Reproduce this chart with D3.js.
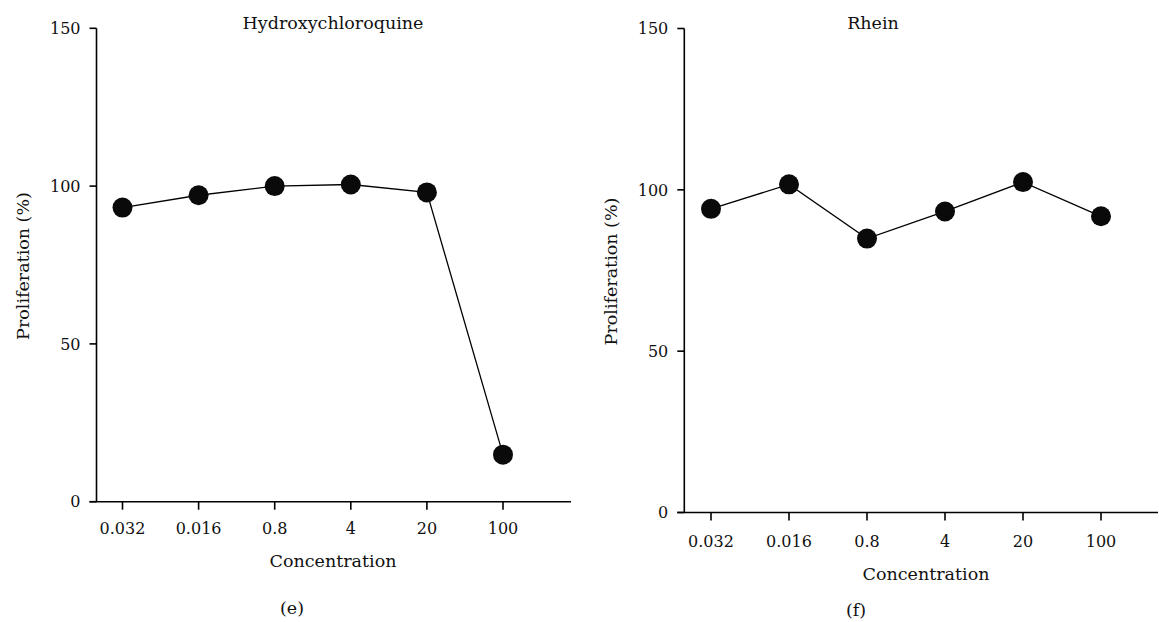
<html>
<head>
  <style>
    body{margin:0;background:#fff}
    .panel .axis line{stroke:#000;stroke-width:1.6px}
    .panel .series{stroke:#000;stroke-width:1.3px;fill:none}
    .panel .dot{fill:#0a0a0a}
    .panel .lab{font-size:17.5px}
  </style>
</head>
<body>
<div id="chart"></div>
<script src="https://cdn.jsdelivr.net/npm/d3@7"></script>
<script>
// data
var concentrations = ['0.032', '0.016', '0.8', '4', '20', '100'];
var hcqValues   = [93.2, 97.1, 100.0, 100.5, 98.0, 14.9];
var rheinValues = [94.1, 101.7, 84.9, 93.3, 102.4, 91.8];
var yTicks = [0, 50, 100, 150];

(function () {
  var width = 1159, height = 622;
  var FONT = "'DejaVu Serif', serif";

  var svg = d3.select('#chart').append('svg')
    .attr('width', width)
    .attr('height', height)
    .style('font-family', FONT)
    .style('font-size', '16px')
    .style('fill', '#111');

  function panel(cfg) {
    var g = svg.append('g').attr('class', 'panel');

    var x = d3.scaleLinear()
      .domain([0, concentrations.length - 1])
      .range([cfg.xFirst, cfg.xLast]);
    var y = d3.scaleLinear()
      .domain([0, 150])
      .range([cfg.yZero, cfg.yTop]);

    var ax = g.append('g').attr('class', 'axis');

    // y axis
    ax.append('line')
      .attr('x1', cfg.yAxisX).attr('y1', y(150))
      .attr('x2', cfg.yAxisX).attr('y2', y(0));
    ax.selectAll('.ytick').data(yTicks).enter().append('line')
      .attr('x1', cfg.yAxisX - 7).attr('x2', cfg.yAxisX)
      .attr('y1', function (d) { return y(d); })
      .attr('y2', function (d) { return y(d); });
    g.selectAll('.ylab').data(yTicks).enter().append('text')
      .attr('x', cfg.yAxisX - 16)
      .attr('y', function (d) { return y(d); })
      .attr('dy', '0.36em')
      .attr('text-anchor', 'end')
      .text(function (d) { return d; });

    // x axis
    ax.append('line')
      .attr('x1', cfg.yAxisX - 7).attr('y1', y(0))
      .attr('x2', cfg.xEnd).attr('y2', y(0));
    ax.selectAll('.xtick').data(concentrations).enter().append('line')
      .attr('x1', function (d, i) { return x(i); })
      .attr('x2', function (d, i) { return x(i); })
      .attr('y1', y(0)).attr('y2', y(0) + 8);
    g.selectAll('.xlab').data(concentrations).enter().append('text')
      .attr('x', function (d, i) { return x(i); })
      .attr('y', y(0) + cfg.xLabGap)
      .attr('text-anchor', 'middle')
      .text(function (d) { return d; });

    // series
    var line = d3.line()
      .x(function (d, i) { return x(i); })
      .y(function (d) { return y(d); });
    g.append('path')
      .attr('class', 'series')
      .attr('d', line(cfg.values));
    g.selectAll('.dot').data(cfg.values).enter().append('circle')
      .attr('class', 'dot')
      .attr('cx', function (d, i) { return x(i); })
      .attr('cy', function (d) { return y(d); })
      .attr('r', 10);

    // texts
    g.append('text')
      .attr('class', 'lab')
      .attr('x', cfg.titleX).attr('y', 29)
      .attr('text-anchor', 'middle')
      .text(cfg.title);
    g.append('text')
      .attr('class', 'lab')
      .attr('transform', 'translate(' + cfg.yTitleX + ',' + cfg.yTitleY + ') rotate(-90)')
      .attr('text-anchor', 'middle')
      .text('Proliferation (%)');
    g.append('text')
      .attr('class', 'lab')
      .attr('x', cfg.xTitleX).attr('y', cfg.xTitleY)
      .attr('text-anchor', 'middle')
      .text('Concentration');
    g.append('text')
      .attr('class', 'lab')
      .attr('x', cfg.tagX).attr('y', cfg.tagY)
      .attr('text-anchor', 'middle')
      .text(cfg.tag);
  }

  panel({
    title: 'Hydroxychloroquine', tag: '(e)', values: hcqValues,
    yAxisX: 96.5, xFirst: 122.5, xLast: 503, xEnd: 571,
    yTop: 28.3, yZero: 501.7, xLabGap: 32,
    titleX: 333, yTitleX: 28.5, yTitleY: 266,
    xTitleX: 333, xTitleY: 567, tagX: 292, tagY: 614
  });

  panel({
    title: 'Rhein', tag: '(f)', values: rheinValues,
    yAxisX: 684.3, xFirst: 711, xLast: 1101, xEnd: 1158,
    yTop: 28.5, yZero: 512.5, xLabGap: 34,
    titleX: 873, yTitleX: 617, yTitleY: 271.5,
    xTitleX: 926, xTitleY: 580, tagX: 856, tagY: 616
  });
})();
</script>
</body>
</html>
